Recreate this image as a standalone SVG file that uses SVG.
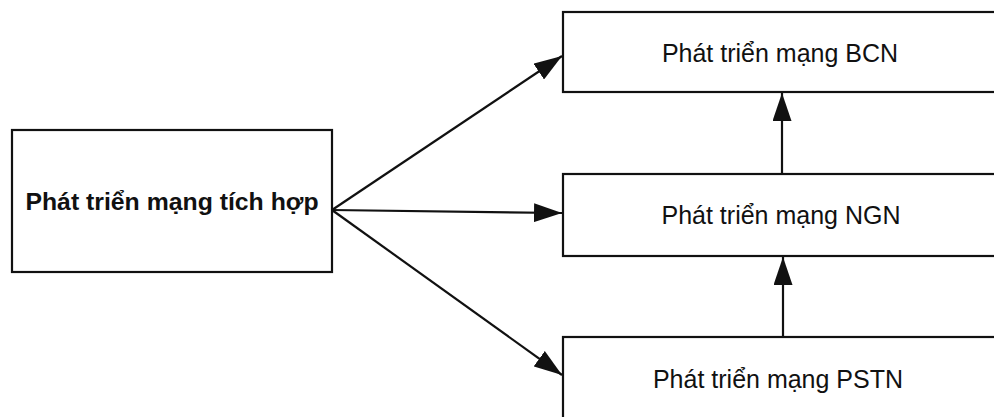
<svg xmlns="http://www.w3.org/2000/svg" width="994" height="417" viewBox="0 0 994 417">
<style>
.box{fill:#fff;stroke:#111;stroke-width:2.2}
.t{font-family:"Liberation Sans",Arial,sans-serif;font-size:25px;fill:#111;text-anchor:middle}
.b{font-weight:bold;font-size:24.8px}
.c{stroke:#111;stroke-width:2.2;fill:none;marker-end:url(#ah)}
</style>
<defs>
<marker id="ah" viewBox="0 0 28 19" refX="28" refY="9.5" markerWidth="28" markerHeight="19" markerUnits="userSpaceOnUse" orient="auto">
<path d="M0,0 L28,9.5 L0,19 Z" fill="#111"/>
</marker>
</defs>
<rect width="994" height="417" fill="#fff"/>
<g id="n-tichhop">
<rect class="box" x="12" y="130" width="320" height="142"/>
<text class="t b" x="172" y="210">Phát triển mạng tích hợp</text>
</g>
<g id="n-bcn">
<rect class="box" x="563" y="12" width="440" height="80"/>
<text class="t" x="780" y="62">Phát triển mạng BCN</text>
</g>
<g id="n-ngn">
<rect class="box" x="563" y="174" width="440" height="82"/>
<text class="t" x="781" y="224">Phát triển mạng NGN</text>
</g>
<g id="n-pstn">
<rect class="box" x="563" y="337" width="440" height="100"/>
<text class="t" x="778" y="388">Phát triển mạng PSTN</text>
</g>
<g id="connectors">
<line class="c" x1="332" y1="210" x2="562" y2="56"/>
<line class="c" x1="332" y1="210" x2="562" y2="213"/>
<line class="c" x1="332" y1="210" x2="562" y2="375"/>
<line class="c" x1="782" y1="174" x2="782" y2="93"/>
<line class="c" x1="783" y1="337" x2="783" y2="257"/>
</g>
</svg>
